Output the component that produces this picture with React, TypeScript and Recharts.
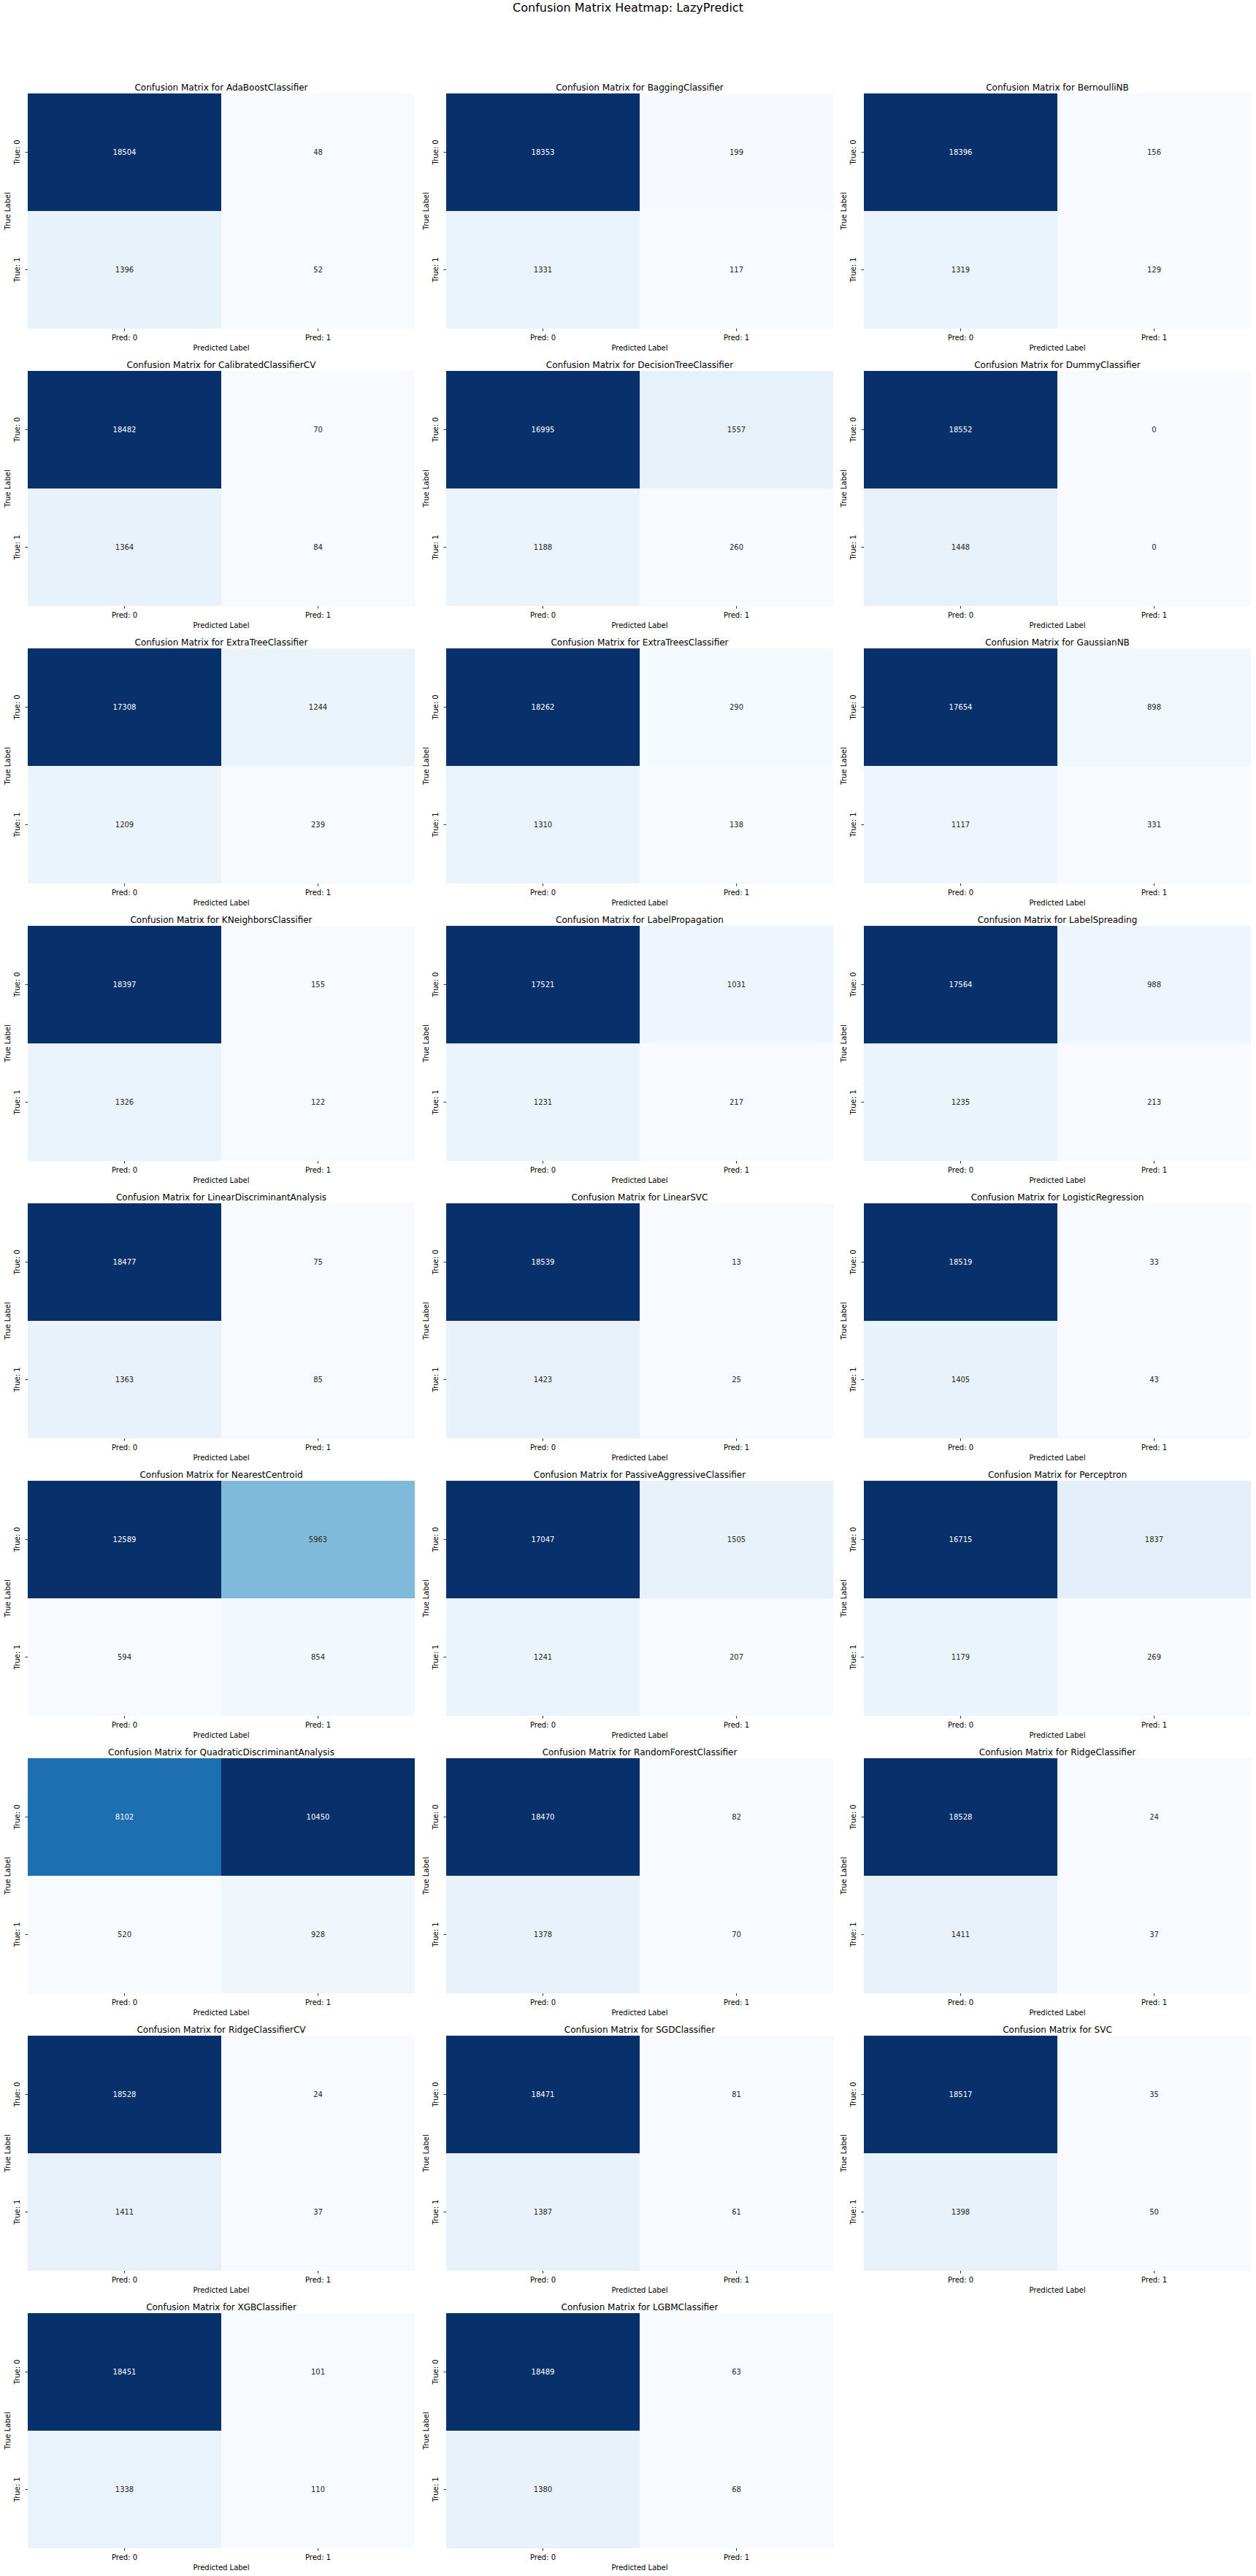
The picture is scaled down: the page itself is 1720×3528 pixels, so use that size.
import { BarChart, Bar, XAxis, YAxis, Cell, LabelList } from "recharts";

const models = [
  "AdaBoostClassifier", "BaggingClassifier", "BernoulliNB",
  "CalibratedClassifierCV", "DecisionTreeClassifier", "DummyClassifier",
  "ExtraTreeClassifier", "ExtraTreesClassifier", "GaussianNB",
  "KNeighborsClassifier", "LabelPropagation", "LabelSpreading",
  "LinearDiscriminantAnalysis", "LinearSVC", "LogisticRegression",
  "NearestCentroid", "PassiveAggressiveClassifier", "Perceptron",
  "QuadraticDiscriminantAnalysis", "RandomForestClassifier", "RidgeClassifier",
  "RidgeClassifierCV", "SGDClassifier", "SVC",
  "XGBClassifier", "LGBMClassifier",
];

// True: 0 / Pred: 0
const trueNeg = [18504, 18353, 18396, 18482, 16995, 18552, 17308, 18262, 17654, 18397, 17521, 17564, 18477, 18539, 18519, 12589, 17047, 16715, 8102, 18470, 18528, 18528, 18471, 18517, 18451, 18489];
// True: 0 / Pred: 1
const falsePos = [48, 199, 156, 70, 1557, 0, 1244, 290, 898, 155, 1031, 988, 75, 13, 33, 5963, 1505, 1837, 10450, 82, 24, 24, 81, 35, 101, 63];
// True: 1 / Pred: 0
const falseNeg = [1396, 1331, 1319, 1364, 1188, 1448, 1209, 1310, 1117, 1326, 1231, 1235, 1363, 1423, 1405, 594, 1241, 1179, 520, 1378, 1411, 1411, 1387, 1398, 1338, 1380];
// True: 1 / Pred: 1
const truePos = [52, 117, 129, 84, 260, 0, 239, 138, 331, 122, 217, 213, 85, 25, 43, 854, 207, 269, 928, 70, 37, 37, 61, 50, 110, 68];

const predTicks = ["Pred: 0", "Pred: 1"];
const trueTicks = ["True: 0", "True: 1"];

const FONT = "'DejaVu Sans', sans-serif";

// matplotlib "Blues"
const BLUES = ["#f7fbff", "#deebf7", "#c6dbef", "#9ecae1", "#6baed6", "#4292c6", "#2171b5", "#08519c", "#08306b"];

const hexToRgb = (h: string) => [1, 3, 5].map((i) => parseInt(h.slice(i, i + 2), 16));

function blues(t: number) {
  const v = Math.max(0, Math.min(1, t)) * (BLUES.length - 1);
  const i = Math.min(Math.floor(v), BLUES.length - 2);
  const f = v - i;
  const a = hexToRgb(BLUES[i]);
  const b = hexToRgb(BLUES[i + 1]);
  return a.map((c, k) => Math.round(c + (b[k] - c) * f));
}

function luminance(rgb: number[]) {
  const lin = rgb.map((c) => {
    const s = c / 255;
    return s <= 0.03928 ? s / 12.92 : Math.pow((s + 0.055) / 1.055, 2.4);
  });
  return 0.2126 * lin[0] + 0.7152 * lin[1] + 0.0722 * lin[2];
}

const rgbStr = (c: number[]) => `rgb(${c[0]},${c[1]},${c[2]})`;

const COL_X = [38, 611, 1183];
const ROW_Y0 = 128;
const ROW_STEP = 380;
const CELL_W = 530;
const CELL_H = 322;
const Y_AXIS_W = 38;
const X_AXIS_H = 40;

function Matrix({ index }: { index: number }) {
  const vals = [trueNeg[index], falsePos[index], falseNeg[index], truePos[index]];
  const lo = Math.min(...vals);
  const hi = Math.max(...vals);
  const color = (v: number) => blues(hi === lo ? 0 : (v - lo) / (hi - lo));

  const data = predTicks.map((p, j) => ({
    pred: p,
    lower: 1,
    upper: 1,
    upperN: j === 0 ? trueNeg[index] : falsePos[index],
    lowerN: j === 0 ? falseNeg[index] : truePos[index],
  }));

  const renderLabel = (props: any) => {
    const x = Number(props.x), y = Number(props.y);
    const w = Number(props.width), h = Number(props.height);
    const c = color(Number(props.value));
    return (
      <text x={x + w / 2} y={y + h / 2} textAnchor="middle" dominantBaseline="central"
        fontSize={10} fontFamily={FONT} fill={luminance(c) > 0.408 ? "#262626" : "#ffffff"}>
        {props.value}
      </text>
    );
  };

  const yTick = (props: any) => {
    const label = props.payload.value > 1 ? trueTicks[0] : trueTicks[1];
    return (
      <g transform={`translate(27,${props.y}) rotate(-90)`}>
        <text textAnchor="middle" fontSize={10} fontFamily={FONT} fill="#000">{label}</text>
      </g>
    );
  };

  const col = index % 3;
  const row = Math.floor(index / 3);
  const hx = COL_X[col];
  const hy = ROW_Y0 + ROW_STEP * row;

  return (
    <>
      <div style={{
        position: "absolute", left: hx, top: hy - 15, width: CELL_W, lineHeight: "14px",
        textAlign: "center", fontSize: 12, fontFamily: FONT, color: "#000", whiteSpace: "nowrap",
      }}>
        Confusion Matrix for {models[index]}
      </div>
      <div style={{ position: "absolute", left: hx - Y_AXIS_W, top: hy }}>
        <BarChart width={Y_AXIS_W + CELL_W} height={CELL_H + X_AXIS_H} data={data}
          margin={{ top: 0, right: 0, bottom: 0, left: 0 }} barCategoryGap={0} barGap={0}>
          <XAxis dataKey="pred" type="category" interval={0} height={X_AXIS_H}
            axisLine={false} tickSize={3.5} tickMargin={5}
            tickLine={{ stroke: "#000", strokeWidth: 0.8 }}
            tick={{ fontSize: 10, fill: "#000", fontFamily: FONT }}
            label={(p: any) => {
              const vb = p.viewBox;
              return (
                <text x={vb.x + vb.width / 2} y={vb.y + 30} textAnchor="middle"
                  fontSize={10} fontFamily={FONT} fill="#000">Predicted Label</text>
              );
            }}
          />
          <YAxis type="number" domain={[0, 2]} ticks={[0.5, 1.5]} width={Y_AXIS_W}
            axisLine={false} tickSize={3.5} tickLine={{ stroke: "#000", strokeWidth: 0.8 }}
            tick={yTick}
            label={(p: any) => {
              const vb = p.viewBox;
              const cy = vb.y + vb.height / 2;
              return (
                <g transform={`translate(${vb.x + 14},${cy}) rotate(-90)`}>
                  <text textAnchor="middle" fontSize={10} fontFamily={FONT} fill="#000">True Label</text>
                </g>
              );
            }}
          />
          <Bar dataKey="lower" stackId="m" isAnimationActive={false}>
            {data.map((d, j) => <Cell key={j} fill={rgbStr(color(d.lowerN))} shapeRendering="crispEdges" />)}
            <LabelList dataKey="lowerN" content={renderLabel} />
          </Bar>
          <Bar dataKey="upper" stackId="m" isAnimationActive={false}>
            {data.map((d, j) => <Cell key={j} fill={rgbStr(color(d.upperN))} shapeRendering="crispEdges" />)}
            <LabelList dataKey="upperN" content={renderLabel} />
          </Bar>
        </BarChart>
      </div>
    </>
  );
}

export default function App() {
  return (
    <div style={{ position: "absolute", left: 0, top: 0, width: 1720, height: 3528, background: "#fff" }}>
      <div style={{
        position: "absolute", left: 0, top: 1, width: 1720, textAlign: "center",
        fontSize: 16, lineHeight: "19px", fontFamily: FONT, color: "#000",
      }}>
        Confusion Matrix Heatmap: LazyPredict
      </div>
      {models.map((_, i) => <Matrix key={i} index={i} />)}
    </div>
  );
}
